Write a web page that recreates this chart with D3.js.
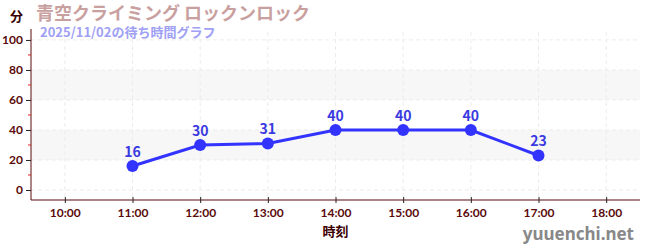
<!DOCTYPE html>
<html lang="ja">
<head>
<meta charset="UTF-8">
<title>待ち時間グラフ</title>
<script src="https://d3js.org/d3.v7.min.js"></script>
<style>
body { margin: 0; background: #fff; }
svg { display: block; font-family: "Noto Sans CJK JP", "Noto Sans", sans-serif; }
</style>
</head>
<body>
<svg width="650" height="250"></svg>
<script>
// data
const hours = [11, 12, 13, 14, 15, 16, 17];
const waits = [16, 30, 31, 40, 40, 40, 23];
const xTicks = [10, 11, 12, 13, 14, 15, 16, 17, 18];
const yTicks = [0, 20, 40, 60, 80, 100];
const yMinor = [10, 30, 50, 70, 90];
const bands = [[20, 40], [60, 80]];

const svg = d3.select('svg');
const plotL = 31, plotR = 640, plotT = 32, plotB = 200;

const x = d3.scaleLinear().domain([9.5, 18.5]).range([plotL, plotR]);
const y = d3.scaleLinear().domain([-6.67, 105.3]).range([plotB, plotT]);

const axisColor = '#5a0a0a';

// shaded bands
svg.selectAll('.band')
    .data(bands)
    .enter()
    .append('rect')
    .attr('x', plotL)
    .attr('width', plotR - plotL)
    .attr('y', d => y(d[1]))
    .attr('height', d => y(d[0]) - y(d[1]))
    .attr('fill', '#f7f7f7');

// grid lines
svg.selectAll('.hgrid')
    .data(yTicks)
    .enter()
    .append('line')
    .attr('x1', plotL).attr('x2', plotR)
    .attr('y1', d => y(d)).attr('y2', d => y(d))
    .attr('stroke', '#ececec')
    .attr('stroke-dasharray', '4,3');

svg.selectAll('.vgrid')
    .data(xTicks)
    .enter()
    .append('line')
    .attr('x1', d => x(d)).attr('x2', d => x(d))
    .attr('y1', plotT).attr('y2', plotB)
    .attr('stroke', '#ececec')
    .attr('stroke-dasharray', '4,3');

// y axis
const yAxis = svg.append('g')
    .attr('transform', `translate(${plotL},0)`)
    .call(d3.axisLeft(y).tickValues(yTicks).tickSize(5).tickPadding(3));
yAxis.select('.domain').attr('stroke', axisColor).attr('d', `M0,${plotT - 3}V${plotB}`);
yAxis.selectAll('.tick line').attr('stroke', '#222');
yAxis.selectAll('.tick text')
    .attr('fill', axisColor)
    .attr('font-size', 12)
    .attr('font-weight', 'bold')
    .attr('font-family', 'Lato, "Noto Sans", sans-serif');

svg.selectAll('.minor')
    .data(yMinor)
    .enter()
    .append('line')
    .attr('x1', plotL - 3).attr('x2', plotL)
    .attr('y1', d => y(d)).attr('y2', d => y(d))
    .attr('stroke', '#dd2222');

// x axis
const xAxis = svg.append('g')
    .attr('transform', `translate(0,${plotB})`)
    .call(d3.axisBottom(x).tickValues(xTicks).tickSize(5).tickPadding(3)
        .tickFormat(d => d + ':00'));
xAxis.select('.domain').attr('stroke', axisColor).attr('d', `M${plotL},0H${plotR}`);
xAxis.selectAll('.tick line').attr('stroke', '#222').attr('y1', -3).attr('y2', 3);
xAxis.selectAll('.tick text')
    .attr('fill', axisColor)
    .attr('font-size', 12)
    .attr('font-weight', 'bold')
    .attr('font-family', 'Lato, "Noto Sans", sans-serif');

// line + points
const line = d3.line().x((d, i) => x(hours[i])).y(d => y(d));
svg.append('path')
    .datum(waits)
    .attr('d', line)
    .attr('fill', 'none')
    .attr('stroke', '#3333ff')
    .attr('stroke-width', 3);

svg.selectAll('.pt')
    .data(waits)
    .enter()
    .append('circle')
    .attr('cx', (d, i) => x(hours[i]))
    .attr('cy', d => y(d))
    .attr('r', 6)
    .attr('fill', '#3333ff');

svg.selectAll('.lbl')
    .data(waits)
    .enter()
    .append('text')
    .attr('x', (d, i) => x(hours[i]))
    .attr('y', d => y(d) - 9)
    .attr('text-anchor', 'middle')
    .attr('font-size', 14)
    .attr('font-weight', 'bold')
    .attr('fill', '#3a3ae0')
    .text(d => d);

// titles
svg.append('text')
    .attr('x', 36).attr('y', 20)
    .attr('font-size', 18)
    .attr('font-weight', 'bold')
    .attr('fill', '#c9a0a0')
    .text('青空クライミング ロックンロック');

svg.append('text')
    .attr('x', 40).attr('y', 37)
    .attr('font-size', 13)
    .attr('font-weight', 'bold')
    .attr('fill', '#a0a0f4')
    .text('2025/11/02の待ち時間グラフ');

svg.append('text')
    .attr('x', 10).attr('y', 21)
    .attr('font-size', 13)
    .attr('font-weight', 'bold')
    .attr('fill', '#3a0000')
    .text('分');

svg.append('text')
    .attr('x', x(14)).attr('y', 236)
    .attr('text-anchor', 'middle')
    .attr('font-size', 13)
    .attr('font-weight', 'bold')
    .attr('fill', '#3a0000')
    .text('時刻');

svg.append('text')
    .attr('x', 634).attr('y', 240)
    .attr('text-anchor', 'end')
    .attr('font-size', 17)
    .attr('font-weight', 'bold')
    .attr('fill', '#888')
    .attr('font-family', '"Noto Sans", sans-serif')
    .text('yuuenchi.net');
</script>
</body>
</html>
